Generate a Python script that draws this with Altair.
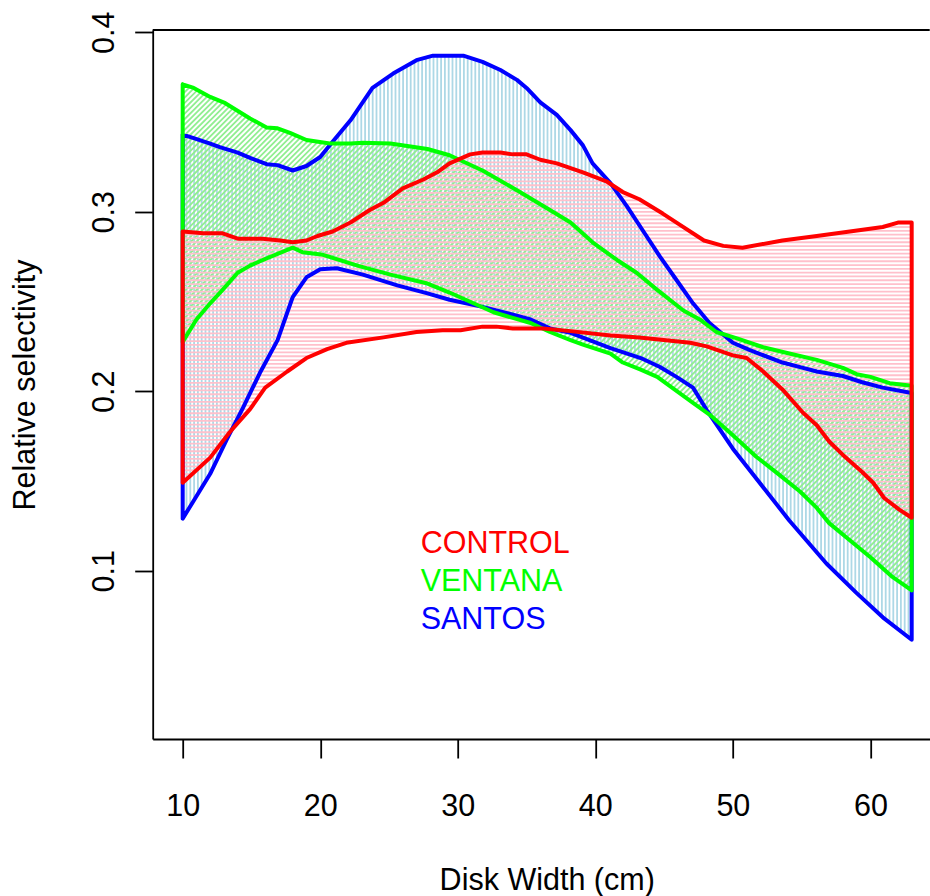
import numpy as np
import pandas as pd
import altair as alt

# Relative selectivity envelopes (upper / lower bound) by disk width (cm)
control_up_x = [10, 11.5, 12.9, 14, 15.8, 17.1, 18, 19, 19.8, 20.9, 22.2, 23.6, 24.6, 26, 27.5, 28.5,
                29.4, 30.9, 31.8, 33.1, 34, 35, 36, 37.2, 39.1, 40.8, 42, 43.2, 44.9, 46.1, 47.9,
                49.3, 50.7, 53.6, 56.1, 58.5, 60.9, 62, 63]
control_up_y = [0.289, 0.288, 0.288, 0.285, 0.285, 0.284, 0.283, 0.284, 0.2865, 0.289, 0.294, 0.301,
                0.305, 0.313, 0.318, 0.322, 0.327, 0.332, 0.333, 0.333, 0.332, 0.332, 0.329, 0.327,
                0.322, 0.317, 0.311, 0.307, 0.299, 0.293, 0.284, 0.281, 0.280, 0.284, 0.2865,
                0.289, 0.2915, 0.294, 0.294]
control_lo_x = [10, 12, 13.4, 14.9, 16, 17.6, 19, 20.5, 21.9, 24.6, 27, 28.9, 30.2, 31.8, 32.8, 34,
                36.2, 38.2, 41.1, 43.2, 46.9, 48.1, 50, 51, 52.2, 53.6, 55.1, 56.1, 57, 58, 59.4,
                60.2, 61, 62.1, 63]
control_lo_y = [0.149, 0.163, 0.177, 0.190, 0.202, 0.211, 0.2185, 0.2235, 0.227, 0.230, 0.233, 0.234,
                0.234, 0.236, 0.236, 0.235, 0.235, 0.2335, 0.231, 0.230, 0.227, 0.225, 0.220,
                0.2185, 0.211, 0.201, 0.188, 0.181, 0.172, 0.1645, 0.155, 0.149, 0.1405, 0.134,
                0.1295]

ventana_up_x = [10, 10.8, 12, 13.1, 14.9, 16.1, 16.9, 17.8, 19, 20.7, 22.2, 23.1, 25.1, 27.8, 29.4,
                31.8, 34.3, 36.7, 38.2, 39.8, 41.6, 43, 44.5, 46.4, 47.6, 48.8, 50.3, 52.2, 54.1,
                56.1, 58, 59, 60, 61.4, 63]
ventana_up_y = [0.371, 0.369, 0.364, 0.3605, 0.352, 0.347, 0.3465, 0.344, 0.340, 0.338, 0.338,
                0.3385, 0.338, 0.335, 0.3315, 0.323, 0.312, 0.301, 0.294, 0.283, 0.273, 0.266,
                0.2565, 0.245, 0.240, 0.233, 0.2295, 0.2245, 0.221, 0.2175, 0.213, 0.2095, 0.208,
                0.2045, 0.203]
ventana_lo_x = [10, 11, 12, 12.9, 14, 14.9, 16.1, 18, 18.7, 20.2, 22.7, 25.1, 27.8, 29.4, 32.6, 35.3,
                36.7, 38.2, 39.1, 41.1, 42, 43.3, 44.5, 47.1, 48.3, 50, 51.7, 53.2, 54.9, 56.1, 57,
                58.5, 60, 61.6, 63]
ventana_lo_y = [0.2275, 0.240, 0.249, 0.2565, 0.266, 0.270, 0.274, 0.280, 0.2775, 0.276, 0.270,
                0.265, 0.260, 0.255, 0.244, 0.238, 0.233, 0.2285, 0.226, 0.221, 0.216, 0.212,
                0.208, 0.1935, 0.187, 0.1755, 0.1635, 0.1545, 0.144, 0.135, 0.1265, 0.117, 0.1075,
                0.0965, 0.089]

santos_up_x = [10, 10.8, 12, 12.7, 14, 14.9, 16.1, 16.9, 18, 19, 20, 20.9, 22.2, 23.8, 25.3, 27,
               28.2, 29.4, 30.4, 31.8, 33.1, 34.3, 35, 36, 37.2, 38.2, 39.1, 39.8, 41.1, 42.3,
               43.5, 44.7, 45.9, 47.1, 48.3, 50, 51.2, 53.6, 55.1, 56.1, 58, 59.4, 60.9, 63]
santos_up_y = [0.343, 0.341, 0.338, 0.336, 0.333, 0.330, 0.3265, 0.326, 0.323, 0.3255, 0.3305,
               0.339, 0.351, 0.369, 0.377, 0.3845, 0.387, 0.387, 0.387, 0.3835, 0.379, 0.3735,
               0.369, 0.361, 0.354, 0.3455, 0.337, 0.327, 0.316, 0.303, 0.289, 0.275, 0.262,
               0.249, 0.238, 0.227, 0.223, 0.216, 0.213, 0.211, 0.2085, 0.205, 0.202, 0.199]
santos_lo_x = [10, 10.8, 12, 13.2, 14.4, 15.6, 16.9, 18, 19, 20, 21.2, 23.1, 25.6, 27.8, 29.4, 31.8,
               33.6, 35.3, 36.7, 38.2, 41.1, 43.3, 44.7, 45.9, 47.1, 48.1, 50, 52.2, 54.1, 56.8,
               59, 60.9, 63]
santos_lo_y = [0.129, 0.139, 0.154, 0.173, 0.191, 0.210, 0.2285, 0.2525, 0.2635, 0.268, 0.2685,
               0.265, 0.259, 0.2545, 0.251, 0.247, 0.2435, 0.240, 0.235, 0.2325, 0.224, 0.2185,
               0.2135, 0.208, 0.202, 0.1895, 0.168, 0.1465, 0.128, 0.104, 0.0875, 0.074, 0.0615]

legend_labels = ["CONTROL", "VENTANA", "SANTOS"]
legend_colors = ["#ff0000", "#00ff00", "#0000ff"]

# Plot geometry
W, H = 777, 709
X_DOM = [7.82, 64.31]
Y_DOM = [0.0062, 0.4013]
PX_X = W / (X_DOM[1] - X_DOM[0])   # pixels per cm
PX_Y = H / (Y_DOM[1] - Y_DOM[0])   # pixels per selectivity unit
GAP = 3.8                          # hatch spacing in pixels
FONT = "Liberation Sans"
FS = 30.5


def curves(xu, yu, xl, yl):
    up = lambda x: np.interp(x, xu, yu)
    lo = lambda x: np.interp(x, xl, yl)
    return up, lo, max(xu[0], xl[0]), min(xu[-1], xl[-1])


def runs(mask):
    d = np.diff(np.concatenate([[0], mask.astype(int), [0]]))
    return zip(np.where(d == 1)[0], np.where(d == -1)[0] - 1)


def hatch_vertical(xu, yu, xl, yl):
    up, lo, x0, x1 = curves(xu, yu, xl, yl)
    xs = np.arange(x0, x1 + 1e-9, GAP / PX_X)
    return pd.DataFrame({"x": xs, "x2": xs, "y": lo(xs), "y2": up(xs)})


def hatch_horizontal(xu, yu, xl, yl):
    up, lo, x0, x1 = curves(xu, yu, xl, yl)
    xs = np.linspace(x0, x1, 4000)
    a, b = lo(xs), up(xs)
    rows = []
    for v in np.arange(a.min() + 0.5 * GAP / PX_Y, b.max(), GAP / PX_Y):
        for i, j in runs((a <= v) & (v <= b)):
            rows.append((xs[i], xs[j], v, v))
    return pd.DataFrame(rows, columns=["x", "x2", "y", "y2"])


def hatch_diagonal(xu, yu, xl, yl):
    up, lo, x0, x1 = curves(xu, yu, xl, yl)
    k = PX_X / PX_Y                      # 45 degrees on screen
    xs = np.linspace(x0, x1, 4000)
    a, b = lo(xs), up(xs)
    rows = []
    step = GAP * np.sqrt(2) / PX_Y
    for c in np.arange((a - k * xs).min(), (b - k * xs).max(), step):
        v = c + k * xs
        for i, j in runs((a <= v) & (v <= b)):
            rows.append((xs[i], xs[j], v[i], v[j]))
    return pd.DataFrame(rows, columns=["x", "x2", "y", "y2"])


def outline(xu, yu, xl, yl):
    xs = list(xu) + list(xl)[::-1] + [xu[0]]
    ys = list(yu) + list(yl)[::-1] + [yu[0]]
    return pd.DataFrame({"x": xs, "y": ys, "ord": range(len(xs))})


xs_scale = alt.Scale(domain=X_DOM, nice=False, zero=False)
ys_scale = alt.Scale(domain=Y_DOM, nice=False, zero=False)

x_axis = alt.Axis(values=[10, 20, 30, 40, 50, 60], format="d", grid=False,
                  tickSize=19, tickWidth=1.8, tickColor="black",
                  domainColor="black", domainWidth=1.8,
                  labelFont=FONT, labelFontSize=FS, labelColor="black",
                  labelBaseline="alphabetic", labelPadding=57, labelFlush=False,
                  labelOverlap=False, labelBound=False,
                  title="Disk Width (cm)", titleFont=FONT, titleFontSize=FS,
                  titleFontWeight="normal", titleColor="black",
                  titleX=394, titleY=150, titleAlign="center", titleBaseline="alphabetic")
y_axis = alt.Axis(values=[0.1, 0.2, 0.3, 0.4], format=".1f", grid=False,
                  tickSize=18, tickWidth=1.8, tickColor="black",
                  domainColor="black", domainWidth=1.8,
                  labelFont=FONT, labelFontSize=FS, labelColor="black",
                  labelAngle=270, labelAlign="center", labelBaseline="alphabetic",
                  labelPadding=21, labelFlush=False, labelOverlap=False, labelBound=False,
                  title="Relative selectivity", titleFont=FONT, titleFontSize=FS,
                  titleFontWeight="normal", titleColor="black", titleAngle=270,
                  titleX=-118, titleY=354.5, titleAlign="center", titleBaseline="alphabetic")

X_ENC = alt.X("x:Q", scale=xs_scale, axis=x_axis)
Y_ENC = alt.Y("y:Q", scale=ys_scale, axis=y_axis)


def hatch_layer(df, color):
    return alt.Chart(df).mark_rule(color=color, strokeWidth=1.8).encode(
        x=X_ENC, x2="x2:Q", y=Y_ENC, y2="y2:Q")


def outline_layer(df, color):
    return alt.Chart(df).mark_line(color=color, strokeWidth=4, strokeJoin="round",
                                   strokeCap="round").encode(
        x=X_ENC, y=Y_ENC, order="ord:Q")


santos = (santos_up_x, santos_up_y, santos_lo_x, santos_lo_y)
ventana = (ventana_up_x, ventana_up_y, ventana_lo_x, ventana_lo_y)
control = (control_up_x, control_up_y, control_lo_x, control_lo_y)

layers = [
    hatch_layer(hatch_vertical(*santos), "#add8e6"),
    hatch_layer(hatch_diagonal(*ventana), "#90ee90"),
    hatch_layer(hatch_horizontal(*control), "#ffc0cb"),
    outline_layer(outline(*santos), "#0000ff"),
    outline_layer(outline(*ventana), "#00ff00"),
    outline_layer(outline(*control), "#ff0000"),
]

# top edge of the plot frame
frame_top = alt.Chart(pd.DataFrame({"y": [Y_DOM[1]]})).mark_rule(
    color="black", strokeWidth=1.8).encode(y=Y_ENC)

legend_df = pd.DataFrame({
    "label": legend_labels,
    "color": legend_colors,
    "x": [27.3, 27.3, 27.3],
    "y": [0.1099, 0.0888, 0.0677],
})
legend = alt.Chart(legend_df).mark_text(
    align="left", baseline="alphabetic", font=FONT, fontSize=FS).encode(
    x=X_ENC,
    y=Y_ENC,
    text="label:N",
    color=alt.Color("color:N", scale=None),
)

chart = alt.layer(*layers, frame_top, legend).properties(
    width=W, height=H,
    autosize=alt.AutoSizeParams(type="none"),
    padding={"left": 152.7, "top": 30, "right": 0.3, "bottom": 157},
    background="white",
).configure_view(stroke=None)

chart.save("out.html", embed_options={"renderer": "svg", "actions": False})
